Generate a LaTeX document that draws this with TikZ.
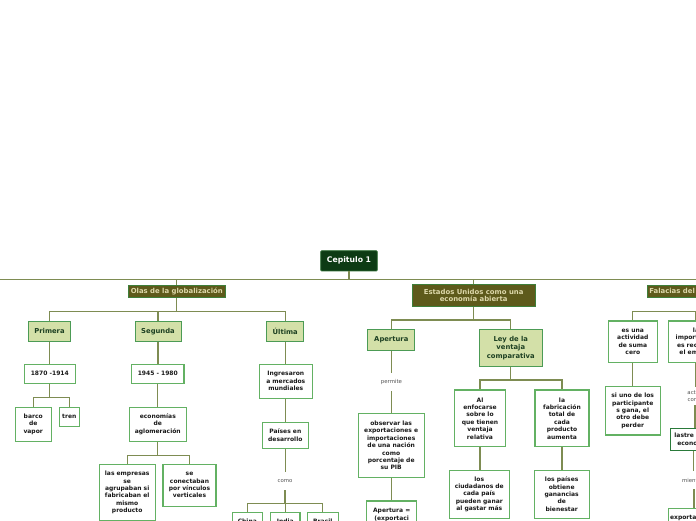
\documentclass[tikz,border=0pt]{standalone}
\usepackage{fontspec}
\setmainfont{DejaVu Sans}
\definecolor{cline}{RGB}{126,140,82}
\definecolor{croot}{HTML}{0D3B14}
\definecolor{crootb}{HTML}{2E6E34}
\definecolor{cone}{HTML}{5E5A1B}
\definecolor{coneb}{HTML}{3E7F3A}
\definecolor{conet}{HTML}{DDD8AA}
\definecolor{ctwo}{HTML}{D3E0A8}
\definecolor{ctwob}{HTML}{4C9B55}
\definecolor{ctwot}{HTML}{1D4022}
\definecolor{cthreeb}{HTML}{63B163}
\definecolor{cthreet}{HTML}{1A1A1A}
\definecolor{cdarkb}{HTML}{2A7A3A}
\definecolor{clab}{HTML}{555555}
\tikzset{
  conn/.style={draw=cline, line width=1.3pt},
  rootbox/.style={fill=croot, draw=crootb, line width=0.8pt, text=white,
    font=\bfseries\fontsize{7.7}{9}\selectfont, inner sep=0pt, rounded corners=1pt},
  onebox/.style={fill=cone, draw=coneb, line width=0.8pt, text=conet,
    font=\bfseries\fontsize{6.9}{7.8}\selectfont, inner sep=0pt, align=center},
  twobox/.style={fill=ctwo, draw=ctwob, line width=1pt, text=ctwot,
    font=\bfseries\fontsize{6.8}{8.7}\selectfont, inner sep=0pt, align=center},
  threebox/.style={fill=white, draw=cthreeb, line width=1.1pt, text=cthreet,
    font=\bfseries\fontsize{6}{7.4}\selectfont, inner sep=0pt, align=center},
  darkbox/.style={threebox, draw=cdarkb},
  lab/.style={text=clab, font=\fontsize{5.4}{6.6}\selectfont, inner sep=0pt,
    align=center, minimum height=18.5pt},
}
\newcommand{\branch}[3]{\draw[conn] (#1.south) -- (#1.south |- 0,#2) -| (#3.north);}
\newcommand{\straight}[2]{\draw[conn] (#1.south) -- (#1.south |- #2.north);}
\begin{document}
\begin{tikzpicture}[x=1pt,y=-1pt]
\useasboundingbox (0,0) rectangle (696,520);
\clip (0,0) rectangle (696,520);
\fill[white] (0,0) rectangle (696,520);

% nodes
\node[rootbox, minimum width=56.6pt, minimum height=20.3pt] (root) at (349,260.8) {Cepitulo 1};
\node[onebox, minimum width=97pt, minimum height=12.3pt] (olas) at (176.8,291.2) {Olas de la globalización};
\node[onebox, minimum width=122.7pt, minimum height=22.4pt] (eeuu) at (473.7,295.5) {Estados Unidos como una\\economía abierta};
\node[onebox, minimum width=108pt, minimum height=11.8pt] (fala) at (701,291.4) {Falacias del libre comercio};

\node[twobox, minimum width=42.4pt, minimum height=20.3pt] (primera) at (49.5,331.2) {Primera};
\node[twobox, minimum width=46pt, minimum height=20.3pt] (segunda) at (158,331.2) {Segunda};
\node[twobox, minimum width=37pt, minimum height=20.3pt] (ultima) at (285.2,331.2) {Última};
\node[twobox, minimum width=46.7pt, minimum height=20.7pt] (apertura) at (391.3,339.7) {Apertura};
\node[twobox, minimum width=63pt, minimum height=37.4pt] (ley) at (510.8,348) {Ley de la\\ventaja\\comparativa};

\node[threebox, minimum width=51pt, minimum height=19.3pt] (n1870) at (49.8,373.7) {1870 -1914};
\node[threebox, minimum width=52.3pt, minimum height=19.3pt] (n1945) at (157.8,373.7) {1945 - 1980};
\node[threebox, minimum width=53pt, minimum height=34.3pt] (ingres) at (285.8,381.2) {Ingresaron\\a mercados\\mundiales};
\node[threebox, minimum width=35.7pt, minimum height=33.7pt] (barco) at (33.2,424.2) {barco\\de\\vapor};
\node[threebox, minimum width=20pt, minimum height=18.7pt] (tren) at (69.3,416.7) {tren};
\node[threebox, minimum width=57pt, minimum height=33.7pt] (econ) at (157.8,424.2) {economías\\de\\aglomeración};
\node[threebox, minimum width=46pt, minimum height=26pt] (paises) at (285.3,435.3) {Países en\\desarrollo};
\node[threebox, minimum width=55.7pt, minimum height=56.4pt] (empresas) at (127.2,492.5) {las empresas\\se\\agrupaban si\\fabricaban el\\mismo\\producto};
\node[threebox, minimum width=53pt, minimum height=41.7pt] (vinc) at (189.5,485.2) {se\\conectaban\\por vínculos\\verticales};
\node[lab] (como) at (285,481) {como};
\node[threebox, minimum width=30pt, minimum height=16.6pt] (china) at (247.3,521) {China};
\node[threebox, minimum width=29.3pt, minimum height=16.6pt] (india) at (285.3,521) {India};
\node[threebox, minimum width=31pt, minimum height=16.6pt] (brasil) at (322.8,521) {Brasil};

\node[lab] (permite) at (391.5,382) {permite};
\node[threebox, minimum width=65.7pt, minimum height=64.4pt] (observar) at (391.2,445.5) {observar las\\exportaciones e\\importaciones\\de una nación\\como\\porcentaje de\\su PIB};
\node[threebox, minimum width=50pt, minimum height=49.6pt] (apeq) at (391.7,525.8) {Apertura =\\(exportaci\\ones +\\importacio\\nes) / PIB};
\node[threebox, minimum width=51.4pt, minimum height=56.7pt] (alenf) at (480,418.3) {Al\\enfocarse\\sobre lo\\que tienen\\ventaja\\relativa};
\node[threebox, minimum width=54pt, minimum height=56.7pt] (lafab) at (562,418.3) {la\\fabricación\\total de\\cada\\producto\\aumenta};
\node[threebox, minimum width=60pt, minimum height=48.3pt] (ciud) at (479.3,494.2) {los\\ciudadanos de\\cada país\\pueden ganar\\al gastar más};
\node[threebox, minimum width=54.7pt, minimum height=48.3pt] (lpais) at (561.7,494.2) {los países\\obtiene\\ganancias\\de\\bienestar};

\node[threebox, minimum width=49pt, minimum height=41.7pt] (suma) at (632.8,341.8) {es una\\actividad\\de suma\\cero};
\node[threebox, minimum width=55pt, minimum height=41.7pt] (impor) at (696,341.8) {la\\importación\\es recesiva\\el empleo};
\node[threebox, minimum width=54.7pt, minimum height=48.3pt] (pierde) at (632.7,410.8) {si uno de los\\participante\\s gana, el\\otro debe\\perder};
\node[lab] (actua) at (695,396) {actúa\\como};
\node[darkbox, minimum width=46pt, minimum height=21.7pt] (lastre) at (693.5,439.2) {lastre de la\\economía};
\node[lab] (mient) at (694,480) {mientras};
\node[threebox, minimum width=51pt, minimum height=32.2pt] (export) at (694,524.4) {exportaciones\\netas\\crecen};

% connectors
\coordinate (mainL) at (-5,279.3);
\coordinate (mainR) at (730,279.3);
\draw[conn] (mainL) -- (mainR);
\draw[conn] (root.south) -- (root.south |- mainL);
\draw[conn] (olas.north) -- (olas.north |- mainL);
\draw[conn] (eeuu.north) -- (eeuu.north |- mainL);
\draw[conn] (fala.north) -- (fala.north |- mainL);

\branch{olas}{311.7}{primera}
\branch{olas}{311.7}{segunda}
\branch{olas}{311.7}{ultima}
\branch{eeuu}{320}{apertura}
\branch{eeuu}{320}{ley}
\branch{fala}{311.7}{suma}
\branch{fala}{311.7}{impor}
\branch{n1870}{397.3}{barco}
\branch{n1870}{397.3}{tren}
\branch{econ}{455.3}{empresas}
\branch{econ}{455.3}{vinc}
\branch{ley}{380}{alenf}
\branch{ley}{380}{lafab}
\branch{como}{503.3}{china}
\branch{como}{503.3}{india}
\branch{como}{503.3}{brasil}

\straight{primera}{n1870}
\straight{segunda}{n1945}
\straight{ultima}{ingres}
\straight{ingres}{paises}
\straight{n1945}{econ}
\straight{alenf}{ciud}
\straight{lafab}{lpais}
\straight{suma}{pierde}
\straight{observar}{apeq}
\straight{apertura}{permite}
\straight{permite}{observar}
\straight{paises}{como}
\straight{impor}{actua}
\straight{actua}{lastre}
\straight{lastre}{mient}
\straight{mient}{export}
\end{tikzpicture}
\end{document}
